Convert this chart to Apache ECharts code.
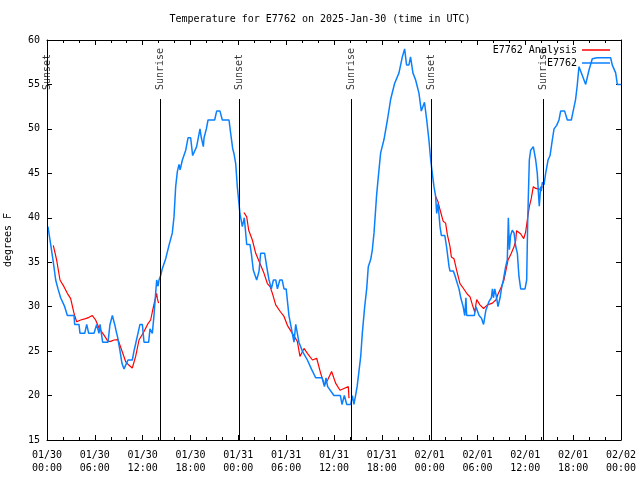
<!DOCTYPE html>
<html>
<head>
<meta charset="utf-8">
<script src="https://cdn.jsdelivr.net/npm/echarts@6/dist/echarts.min.js"></script>
<style>html,body{margin:0;padding:0;background:#fff;}#c{width:640px;height:480px;}</style>
</head>
<body>
<div id="c"></div>
<script>
// Hours since 2025-01-30 00:00 UTC
const obsHours = [0.12,0.46,0.79,1.09,1.38,1.71,2.22,2.55,3.39,3.47,4.01,4.14,4.73,4.98,5.23,5.9,6.23,6.52,6.65,6.98,7.65,7.9,8.2,8.49,8.74,8.85,9.16,9.41,9.66,9.91,10.16,10.7,10.91,11.16,11.41,11.66,11.96,12.17,12.75,12.92,13.21,13.42,13.67,13.76,13.93,14.05,14.26,14.47,14.89,15.3,15.72,15.93,16.14,16.35,16.56,16.7,16.98,17.4,17.69,18.02,18.27,18.52,18.77,18.95,19.19,19.36,19.61,19.7,19.99,20.2,21.03,21.28,21.7,21.99,22.83,23.04,23.29,23.46,23.67,23.87,24.08,24.2,24.5,24.7,24.75,24.85,25.05,25.46,25.63,25.88,26.3,26.6,26.8,27.3,27.56,27.85,28.14,28.4,28.7,28.9,29.2,29.5,29.73,30.0,30.35,30.77,30.98,31.2,31.4,31.6,32.03,32.66,33.16,33.7,34.5,34.8,35.0,35.2,35.99,36.8,37.0,37.3,37.6,38.1,38.3,38.5,38.7,38.9,39.1,39.35,39.55,39.85,40.1,40.3,40.6,40.81,41.02,41.35,41.6,41.85,42.27,42.7,43.1,43.6,44.15,44.57,44.86,45.1,45.4,45.6,45.9,46.24,46.66,46.95,47.2,47.35,47.63,47.9,48.13,48.33,48.54,48.75,48.88,49.05,49.3,49.47,49.9,50.14,50.43,50.55,50.97,51.14,51.47,51.68,51.9,52.2,52.4,52.55,52.64,53.6,53.8,54.2,54.5,54.76,55.05,55.45,55.74,55.87,56.0,56.16,56.4,56.57,56.83,57.0,57.24,57.53,57.74,57.87,58.0,58.15,58.36,58.58,58.79,59.0,59.2,59.42,59.96,60.17,60.3,60.5,60.67,61.0,61.3,61.5,61.67,61.75,61.92,62.0,62.13,62.34,62.55,62.85,63.1,63.39,63.6,63.93,64.22,64.43,64.93,65.27,65.77,66.0,66.3,66.5,66.73,66.94,67.15,67.57,67.78,67.98,68.4,69.0,70.7,70.9,71.33,71.54,72.0];
const obsTemps = [39,37,35,33,32,31,30,29,29,28,28,27,27,28,27,27,28,27,28,26,26,28,29,28,27,26.6,25,23.6,23,23,24,24,25,26,27,28,28,26,26,27.5,27,29,32,33,32.3,33,33.5,34.3,35.4,36.9,38.3,40.1,43.5,45.2,46,45.4,46.5,47.6,49,49,47,47,48,48,50,49,48,49,50,51,51,52,52,51,51,49.5,47.8,47.2,46.1,43.5,41.6,40.5,39,39,40,39,37,37,36,34.1,33,34,36,36,34.5,33,32,33,33,32,33,33,32,32,29,27,26,28,28,26,25,24,23,22,22,21,22,21,20,20,19,20,19,19,20,19,20,21,22.5,24.4,27,30,32,34.5,35.3,36.4,38.3,42.6,45,47.3,48.8,51,53.3,55.1,56.3,58.1,59,57.2,57.2,58.1,56.3,55.5,54,52,52,53,51,48.8,46.5,45,43.5,42.4,40.5,41.6,39,38,38,36.6,34.5,34,34,33.6,32.6,32,31,30,29,31,29,29,30,29,28.7,28,29.6,30.6,31,32,31,32,31,30,31,32,33,34.5,35.3,40,36.4,38,38.6,38.3,36.8,36,33.4,32,32,33,39.8,46.5,47.6,48,46.5,45,42.4,41.3,43.5,43,44,43.7,45,46.5,47,48.8,50,50.4,51,52,52,51,51,52,53.3,54.8,57,57,56,55,55,56.6,57.9,58,58,57.2,56.3,55,55];

// Analysis (null = gap)
const anaHours = [0.79,0.96,1.21,1.63,2.13,2.55,2.97,3.39,3.72,4.22,4.85,5.27,5.69,6.1,6.52,7.15,7.65,7.99,8.4,8.9,9.45,9.87,10.29,10.7,11.12,11.54,12.17,12.67,13.0,13.21,13.5,13.76,13.84,14.0,
  19,
  24.7,25.05,25.3,25.76,26.18,26.6,27.22,27.64,27.98,28.27,28.69,29.3,29.73,30.15,30.77,31.4,31.73,32.24,32.66,33.3,33.83,34.33,34.8,35.2,35.7,36.2,36.75,37.25,37.8,37.88,
  43,
  48.75,49.05,49.3,49.7,50.0,50.22,50.55,50.72,51.05,51.38,51.8,52.2,52.73,53.07,53.36,53.65,53.9,54.3,54.76,55.24,55.87,56.3,56.57,57.0,57.32,57.66,57.83,58.24,58.58,58.79,58.9,59.4,59.8,60.04,60.25,60.5,60.75,61.0,61.3,61.92,62.13];
const anaTemps = [36.9,37.05,35.25,33,32.25,31.5,30.9,29.25,28.3,28.5,28.65,28.8,29,28.5,27.6,26.8,26.1,26.1,26.25,26.3,24.9,23.8,23.4,23.1,24.4,26.25,27.2,28.1,28.5,29.4,30.6,31.5,30.9,30.4,
  null,
  40.6,40.1,38.6,37.5,36,35.1,33.75,32.6,32.25,31.5,30.2,29.4,28.9,27.9,27,26.1,24.4,25.3,24.75,24,24.2,22.5,21.2,21.75,22.7,21.4,20.6,20.8,21,19.7,
  null,
  42.4,41.8,40.9,39.6,39.4,38.1,36.75,35.6,35.4,34.1,32.6,32.1,31.4,31.1,30.2,29.4,30.8,30.2,29.8,30.2,30.4,30.75,31.4,32.25,33,34.5,35.25,36,36.75,37.4,38.55,38.2,37.65,38.4,39.75,41.25,42.2,43.5,43.3,43.2,43.5];

const sunNames = ['Sunset','Sunrise','Sunset','Sunrise','Sunset','Sunrise'];
const sunHours = [0.04,14.2,24.15,38.17,48.2,62.24];
const sunLineTop = 53.36;
const sunLabelBase = 54.15;

const xTickLabels = ['01/30\n00:00','01/30\n06:00','01/30\n12:00','01/30\n18:00','01/31\n00:00','01/31\n06:00','01/31\n12:00','01/31\n18:00','02/01\n00:00','02/01\n06:00','02/01\n12:00','02/01\n18:00','02/02\n00:00'];

const FONT = 'DejaVu Sans Mono';
const obsData = obsHours.map((h,i)=>[h,obsTemps[i]]);
const anaData = anaHours.map((h,i)=>[h, anaTemps[i]===null ? '-' : anaTemps[i]]);

const chart = echarts.init(document.getElementById('c'), null, {renderer:'canvas'});
const axisCommon = {
  axisLine:{show:true,onZero:false,lineStyle:{color:'#000',width:1}},
  axisTick:{show:true,inside:true,length:5,lineStyle:{color:'#000'}},
  splitLine:{show:false}
};
chart.setOption({
  animation:false,
  backgroundColor:'#fff',
  title:{text:'Temperature for E7762 on 2025-Jan-30 (time in UTC)',left:'center',top:14,padding:0,
    textStyle:{fontFamily:FONT,fontSize:10,fontWeight:'normal',color:'#000'}},
  legend:{
    data:['E7762 Analysis','E7762'],
    orient:'vertical', right:30, top:44, align:'right', padding:0,
    icon:'rect', itemWidth:28, itemHeight:1.5, itemGap:1,
    textStyle:{fontFamily:FONT,fontSize:10,color:'#000',padding:[0,0,0,0],lineHeight:12}
  },
  grid:{left:47,right:19,top:40,bottom:40,containLabel:false,outerBoundsMode:'none'},
  xAxis:[
    Object.assign({type:'value',min:0,max:72,interval:6,position:'bottom',
      minorTick:{show:true,splitNumber:3,length:3,lineStyle:{color:'#000'}},
      axisLabel:{show:true,color:'#000',fontFamily:FONT,fontSize:10,lineHeight:13,margin:9,
        formatter:(v)=>xTickLabels[Math.round(v/6)]}}, axisCommon),
    Object.assign({type:'value',min:0,max:72,interval:6,position:'top',
      minorTick:{show:true,splitNumber:3,length:3,lineStyle:{color:'#000'}},
      axisLabel:{show:false}}, axisCommon)
  ],
  yAxis:[
    Object.assign({type:'value',min:15,max:60,interval:5,position:'left',
      name:'degrees F',nameLocation:'middle',nameRotate:90,nameGap:34,
      nameTextStyle:{fontFamily:FONT,fontSize:10,color:'#000'},
      axisLabel:{show:true,color:'#000',fontFamily:FONT,fontSize:10,margin:7}}, axisCommon),
    Object.assign({type:'value',min:15,max:60,interval:5,position:'right',
      axisLabel:{show:false}}, axisCommon)
  ],
  series:[
    {name:'sun',type:'scatter',xAxisIndex:0,yAxisIndex:0,symbolSize:0,silent:true,
      data:sunHours.map((h,i)=>({value:[h,sunLabelBase],name:sunNames[i]})),
      label:{show:true,formatter:(p)=>p.name,position:'inside',rotate:90,align:'left',verticalAlign:'middle',
        offset:[2,0],fontFamily:FONT,fontSize:10,color:'#000'},
      markLine:{silent:true,symbol:['none','none'],animation:false,
        lineStyle:{color:'#000',width:1,type:'solid'},label:{show:false},
        data:sunHours.map(h=>[{coord:[h,15]},{coord:[h,sunLineTop]}])}
    },
    {name:'E7762 Analysis',type:'line',xAxisIndex:0,yAxisIndex:0,data:anaData,
      symbol:'none',connectNulls:false,lineStyle:{color:'#ff0000',width:1.2},itemStyle:{color:'#ff0000'}},
    {name:'E7762',type:'line',xAxisIndex:0,yAxisIndex:0,data:obsData,
      symbol:'none',lineStyle:{color:'#0a80ff',width:1.5},itemStyle:{color:'#0a80ff'}}
  ]
});
</script>
</body>
</html>
